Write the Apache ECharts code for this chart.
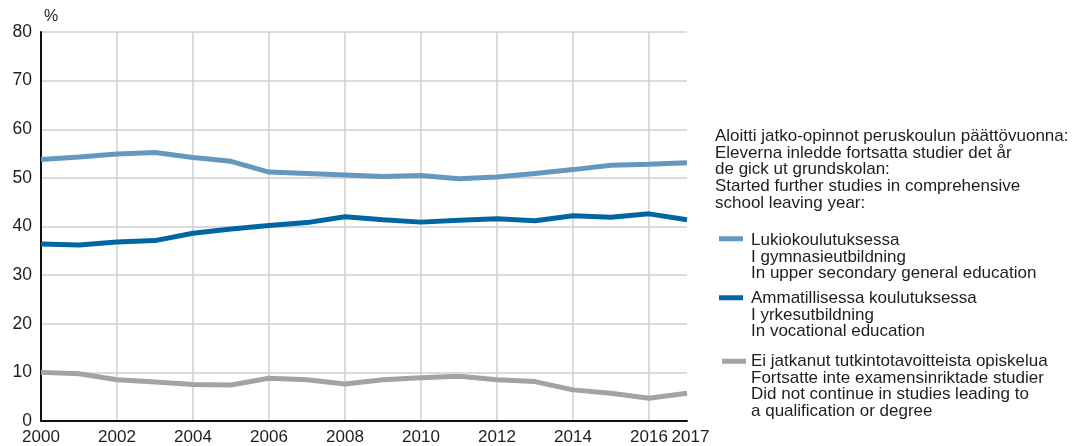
<!DOCTYPE html>
<html>
<head>
<meta charset="utf-8">
<script src="https://cdn.jsdelivr.net/npm/echarts@6/dist/echarts.min.js"></script>
<style>
  html, body { margin: 0; padding: 0; background: #fff; }
  #chart { width: 1077px; height: 446px; }
</style>
</head>
<body>
<div id="chart"></div>
<script>
// vuodet / years
const years = ["2000","2001","2002","2003","2004","2005","2006","2007","2008",
  "2009","2010","2011","2012","2013","2014","2015","2016","2017"];
// Lukiokoulutuksessa
const lukio = [53.8, 54.3, 54.9, 55.2, 54.2, 53.4, 51.2, 50.9, 50.6, 50.3, 50.5, 49.8, 50.2, 50.9, 51.7, 52.6, 52.8, 53.1];
// Ammatillisessa koulutuksessa
const ammatillinen = [36.4, 36.2, 36.8, 37.1, 38.6, 39.5, 40.2, 40.8, 42.0, 41.4, 40.9, 41.3, 41.6, 41.2, 42.2, 41.9, 42.6, 41.4];
// Ei jatkanut
const eiJatkanut = [10.0, 9.7, 8.5, 8.0, 7.5, 7.4, 8.8, 8.5, 7.6, 8.5, 8.9, 9.2, 8.5, 8.1, 6.4, 5.7, 4.7, 5.7];

const yTicks = { min: 0, max: 80, interval: 10 };

const names = [
  "Lukiokoulutuksessa\nI gymnasieutbildning\nIn upper secondary general education",
  "Ammatillisessa koulutuksessa\nI yrkesutbildning\nIn vocational education",
  "Ei jatkanut tutkintotavoitteista opiskelua\nFortsatte inte examensinriktade studier\nDid not continue in studies leading to\na qualification or degree"
];
const colors = ["#6598bf", "#0066a1", "#a3a3a3"];
const header = "Aloitti jatko-opinnot peruskoulun päättövuonna:\nEleverna inledde fortsatta studier det år\nde gick ut grundskolan:\nStarted further studies in comprehensive\nschool leaving year:";

const FONT = "'Liberation Sans', Arial, Helvetica, sans-serif";
const FS = 17;
const LH = 16.6;

// merkki ylimmän rivin kohdalle: näkyvä palkki + näkymätön venytys alas
function legendAt(i, top, lines, x0, y0) {
  const h = lines * LH;
  return {
    data: [names[i]],
    orient: "vertical",
    left: 714,
    top: top,
    icon: "path://M0,0L0,0.01M" + x0 + "," + y0 + "H" + (x0 + 24) + "V" + (y0 + 5) + "H" + x0 + "ZM0," + (h - 0.01) + "L0," + h,
    itemWidth: 24 + x0,
    itemHeight: h,
    itemGap: 0,
    selectedMode: false,
    textStyle: {
      fontFamily: FONT,
      fontSize: FS,
      color: "#1e1e1e",
      lineHeight: LH,
      padding: [0, 0, 0, 3 - x0]
    }
  };
}

const chart = echarts.init(document.getElementById("chart"));
chart.setOption({
  animation: false,
  textStyle: { fontFamily: FONT },
  grid: { left: 41, right: 390, top: 32, bottom: 24, containLabel: false },
  graphic: [{
    type: "text",
    left: 715,
    top: 128,
    style: {
      text: header,
      font: FS + "px " + FONT,
      fill: "#1e1e1e",
      lineHeight: LH
    }
  }],
  legend: [
    legendAt(0, 227, 3, 0, 4),
    legendAt(1, 285, 3, 0, 5),
    legendAt(2, 348, 4, 3, 5.5)
  ],
  xAxis: {
    type: "category",
    data: years,
    boundaryGap: false,
    axisLine: { lineStyle: { color: "#111", width: 2 } },
    axisTick: { show: false },
    axisLabel: {
      interval: (idx) => idx % 2 === 0 || idx === years.length - 1,
      showMaxLabel: true,
      hideOverlap: false,
      color: "#1e1e1e",
      fontSize: 17,
      margin: 8,
      formatter: (v, idx) => idx === years.length - 1 ? "{last|" + v + "}" : v,
      rich: { last: { fontSize: 17, color: "#1e1e1e", padding: [0, 0, 0, 7] } }
    },
    splitLine: {
      show: true,
      interval: (idx) => idx % 2 === 0 && idx > 0,
      lineStyle: { color: "#cfcfcf", width: 1.5 }
    }
  },
  yAxis: {
    type: "value",
    min: yTicks.min,
    max: yTicks.max,
    interval: yTicks.interval,
    name: "%",
    nameLocation: "end",
    nameGap: 7,
    nameTextStyle: { color: "#1e1e1e", fontSize: 16, align: "left", padding: [0, 0, 0, 3] },
    axisLine: { show: true, lineStyle: { color: "#111", width: 2 } },
    axisTick: { show: false },
    axisLabel: { color: "#1e1e1e", fontSize: 17.5, margin: 9 },
    splitLine: { lineStyle: { color: "#cfcfcf", width: 1.5 } }
  },
  series: [
    { name: names[0], type: "line", data: lukio, symbol: "none",
      lineStyle: { color: colors[0], width: 5 }, itemStyle: { color: colors[0] } },
    { name: names[1], type: "line", data: ammatillinen, symbol: "none",
      lineStyle: { color: colors[1], width: 5 }, itemStyle: { color: colors[1] } },
    { name: names[2], type: "line", data: eiJatkanut, symbol: "none",
      lineStyle: { color: colors[2], width: 5 }, itemStyle: { color: colors[2] } }
  ]
});
</script>
</body>
</html>
